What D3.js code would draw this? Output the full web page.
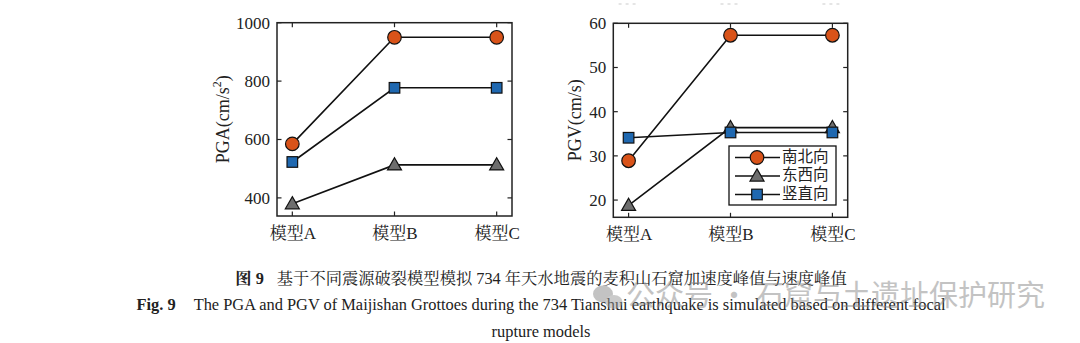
<!DOCTYPE html>
<html><head><meta charset="utf-8">
<script src="https://cdn.jsdelivr.net/npm/d3@7"></script>
<style>
html,body{margin:0;padding:0;background:#fff;}
svg{display:block;}
</style></head>
<body>
<svg id="chart" width="1080" height="343"></svg>
<script>
// ---- data ----
const categories = ["模型A", "模型B", "模型C"];
const seriesNames = ["南北向", "东西向", "竖直向"];
const pgaNS = [585, 950, 950];
const pgaEW = [380, 513, 513];
const pgaV  = [523, 777, 777];
const pgvNS = [28.9, 57.3, 57.3];
const pgvEW = [18.8, 36.4, 36.4];
const pgvV  = [34.1, 35.3, 35.3];
const pgaTicks = [400, 600, 800, 1000];
const pgvTicks = [20, 30, 40, 50, 60];
const captionCN = "基于不同震源破裂模型模拟 734 年天水地震的麦积山石窟加速度峰值与速度峰值";
const captionEN1 = "The PGA and PGV of Maijishan Grottoes during the 734 Tianshui earthquake is simulated based on different focal";
const captionEN2 = "rupture models";

const colors = ["#D95319", "#6E6E6E", "#1F68B0"];
const shapes = ["circle", "triangle", "square"];
const serif = "'Liberation Serif','Times New Roman','Noto Serif CJK SC','Noto Sans CJK SC',serif";

const svg = d3.select("#chart");

function drawMarker(g, shape, x, y, color) {
  if (shape === "circle") {
    g.append("circle").attr("cx", x).attr("cy", y).attr("r", 6.8)
      .attr("fill", color).attr("stroke", "#111").attr("stroke-width", 1.2);
  } else if (shape === "square") {
    g.append("rect").attr("x", x - 5.3).attr("y", y - 5.3).attr("width", 10.6).attr("height", 10.6)
      .attr("fill", color).attr("stroke", "#111").attr("stroke-width", 1.2);
  } else {
    const s = d3.symbol().type(d3.symbolTriangle).size(85);
    g.append("path").attr("d", s()).attr("transform", `translate(${x},${y + 1})`)
      .attr("fill", color).attr("stroke", "#111").attr("stroke-width", 1.2);
  }
}

function panel(opts) {
  const {left, right, top, bottom, domain, ticks, series, ylabel, ylabelX} = opts;
  const g = svg.append("g");
  const x = d3.scalePoint().domain(categories).range([left, right]).padding(0.15);
  const y = d3.scaleLinear().domain(domain).range([bottom, top]);

  const yAxis = g.append("g").attr("transform", `translate(${left},0)`)
    .call(d3.axisLeft(y).tickValues(ticks).tickFormat(d3.format("d")).tickSize(0).tickPadding(7));
  yAxis.attr("font-family", null).attr("font-size", null);
  yAxis.select(".domain").remove();
  yAxis.selectAll("text").style("font-family", serif).style("font-size", "17px").attr("fill", "#222");

  const xAxis = g.append("g").attr("transform", `translate(0,${bottom})`)
    .call(d3.axisBottom(x).tickSize(0).tickPadding(11));
  xAxis.attr("font-family", null).attr("font-size", null);
  xAxis.select(".domain").remove();
  xAxis.selectAll("text").style("font-family", serif).style("font-size", "17px").attr("fill", "#222");

  const tl = 4.5;
  ticks.forEach(t => {
    g.append("line").attr("x1", left).attr("x2", left + tl).attr("y1", y(t)).attr("y2", y(t)).attr("stroke", "#222").attr("stroke-width", 1.2);
    g.append("line").attr("x1", right).attr("x2", right - tl).attr("y1", y(t)).attr("y2", y(t)).attr("stroke", "#222").attr("stroke-width", 1.2);
  });
  categories.forEach(c => {
    g.append("line").attr("x1", x(c)).attr("x2", x(c)).attr("y1", bottom).attr("y2", bottom - tl).attr("stroke", "#222").attr("stroke-width", 1.2);
    g.append("line").attr("x1", x(c)).attr("x2", x(c)).attr("y1", top).attr("y2", top + tl).attr("stroke", "#222").attr("stroke-width", 1.2);
  });

  const line = d3.line().x((d, i) => x(categories[i])).y(d => y(d));
  series.forEach((vals, si) => {
    g.append("path").attr("d", line(vals)).attr("fill", "none").attr("stroke", "#111").attr("stroke-width", 1.6);
    vals.forEach((v, i) => drawMarker(g, shapes[si], x(categories[i]), y(v), colors[si]));
  });

  g.append("rect").attr("x", left).attr("y", top).attr("width", right - left).attr("height", bottom - top)
    .attr("fill", "none").attr("stroke", "#222").attr("stroke-width", 1.5);

  const yl = g.append("text").attr("transform", `translate(${ylabelX},${(top + bottom) / 2}) rotate(-90)`)
    .attr("text-anchor", "middle").attr("dominant-baseline", "middle")
    .style("font-family", serif).style("font-size", "18px").attr("fill", "#222");
  ylabel(yl);
  return {g, x, y};
}

panel({left: 277, right: 512, top: 22.7, bottom: 216, domain: [338, 1000], ticks: pgaTicks,
  series: [pgaNS, pgaEW, pgaV], ylabelX: 225,
  ylabel: t => { t.append("tspan").text("PGA(cm/s");
                 t.append("tspan").style("font-size", "12px").attr("dy", -7).text("2");
                 t.append("tspan").attr("dy", 7).text(")"); }});

const p2 = panel({left: 613.3, right: 847.7, top: 23.3, bottom: 217.3, domain: [16.1, 60], ticks: pgvTicks,
  series: [pgvNS, pgvEW, pgvV], ylabelX: 577,
  ylabel: t => t.text("PGV(cm/s)")});

// legend
const lg = svg.append("g");
lg.append("rect").attr("x", 729).attr("y", 146).attr("width", 107).attr("height", 59)
  .attr("fill", "#fff").attr("stroke", "#111").attr("stroke-width", 1.3);
const ly = [157.5, 176, 194.5];
seriesNames.forEach((n, i) => {
  lg.append("line").attr("x1", 735).attr("x2", 780).attr("y1", ly[i]).attr("y2", ly[i]).attr("stroke", "#111").attr("stroke-width", 1.6);
  drawMarker(lg, shapes[i], 757, ly[i], colors[i]);
  lg.append("text").attr("x", 782).attr("y", ly[i]).attr("dominant-baseline", "middle")
    .style("font-family", "'Noto Sans CJK SC',serif").style("font-size", "15.5px").attr("fill", "#222").text(n);
});

// faint fragments at top (cut-off labels of previous figure)
p2.x.domain().forEach(c => {
  svg.append("line").attr("x1", p2.x(c) - 10).attr("x2", p2.x(c) + 10).attr("y1", 4).attr("y2", 4)
    .attr("stroke", "#ddd").attr("stroke-width", 1.5).attr("stroke-dasharray", "3,4");
});

// caption
const capFont = "'Liberation Serif','Noto Serif CJK SC','Noto Sans CJK SC',serif";
const c1 = svg.append("text").attr("x", 541).attr("y", 284).attr("text-anchor", "middle")
  .style("font-family", capFont).style("font-size", "16.3px").attr("fill", "#222");
c1.append("tspan").attr("font-weight", "bold").text("图 9");
c1.append("tspan").attr("dx", 13).text(captionCN);
const c2 = svg.append("text").attr("x", 541).attr("y", 310).attr("text-anchor", "middle")
  .style("font-family", capFont).style("font-size", "16.4px").attr("fill", "#222");
c2.append("tspan").attr("font-weight", "bold").text("Fig. 9");
c2.append("tspan").attr("dx", 18).text(captionEN1);
svg.append("text").attr("x", 541).attr("y", 337).attr("text-anchor", "middle")
  .style("font-family", capFont).style("font-size", "16.4px").attr("fill", "#222").text(captionEN2);

// watermark
const wm = svg.append("g").attr("opacity", 0.5);
wm.append("ellipse").attr("cx", 603).attr("cy", 294).attr("rx", 10).attr("ry", 8.5).attr("fill", "#888");
wm.append("ellipse").attr("cx", 614).attr("cy", 302).attr("rx", 8.5).attr("ry", 7).attr("fill", "#999");
wm.append("text").attr("x", 626).attr("y", 298).attr("dominant-baseline", "middle")
  .style("font-family", "'Noto Sans CJK SC',sans-serif").style("font-size", "29px").attr("fill", "#888")
  .text("公众号 · 石窟与土遗址保护研究");
</script>
</body></html>
